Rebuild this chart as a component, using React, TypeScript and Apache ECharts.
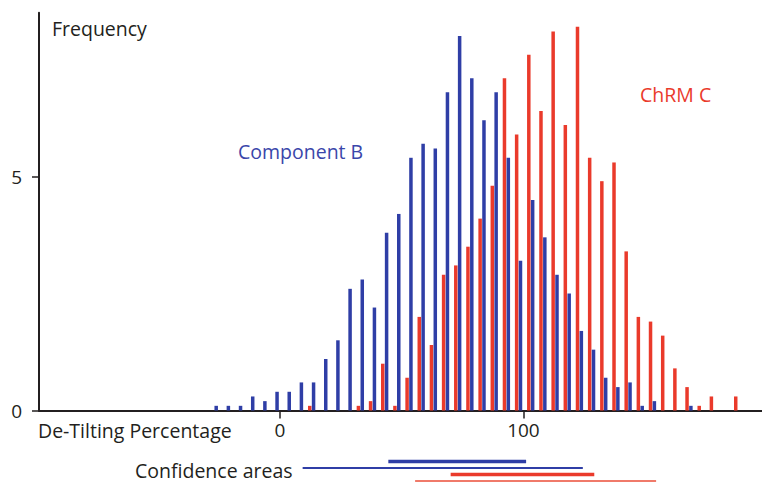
import React, { useEffect, useRef } from "react";
import * as echarts from "echarts";

// Histogram bins (labelled by bin value, %), and the x position of each bar group
const BIN_LABELS = [-25, -20, -15, -10, -5, 0, 5, 10, 15, 20, 25, 30, 35, 40, 45, 50, 55, 60, 65, 70, 75, 80, 85, 90, 95, 100, 105, 110, 115, 120, 125, 130, 135, 140, 145, 150, 155, 160, 165, 170, 175, 180, 185, 190];
const BIN_OFFSET = -2;

const COMPONENT_B = [0.1, 0.1, 0.1, 0.3, 0.2, 0.4, 0.4, 0.6, 0.6, 1.1, 1.5, 2.6, 2.8, 2.2, 3.8, 4.2, 5.4, 5.7, 5.6, 6.8, 8.0, 7.1, 6.2, 6.8, 5.4, 3.2, 4.5, 3.7, 2.9, 2.5, 1.7, 1.3, 0.7, 0.5, 0.6, 0.1, 0.2, 0, 0, 0.1, 0, 0, 0, 0];
const CHRM_C = [0, 0, 0, 0, 0, 0, 0, 0, 0.1, 0, 0, 0, 0.1, 0.2, 1.0, 0.1, 0.7, 2.0, 1.4, 2.9, 3.1, 3.5, 4.1, 4.8, 7.1, 5.9, 7.6, 6.4, 8.1, 6.1, 8.2, 5.4, 4.9, 5.3, 3.4, 2.0, 1.9, 1.6, 0.9, 0.5, 0.1, 0.3, 0, 0.3];

const X_TICKS = [0, 100];
const Y_TICKS = [0, 5];

// Confidence areas (rows from top to bottom)
const CONF_LOW = [44.5, 9.3, 70.1, 55.5];
const CONF_HIGH = [101.1, 124.4, 129.1, 154.5];

const BLUE = "#2f3ea6";
const RED = "#ea3a2b";
const INK = "#231f20";
const FONT = "'Open Sans', 'Noto Sans', sans-serif";
const TITLE_FONT = `19.5px ${FONT}`;

export default function App() {
  const ref = useRef<HTMLDivElement>(null);
  useEffect(() => {
    if (!ref.current) return;
    const chart = echarts.init(ref.current, null, { renderer: "svg" });
    const toPairs = (vals: number[]) =>
      vals
        .map((v, i) => [BIN_LABELS[i] + BIN_OFFSET, v])
        .filter((p) => p[1] > 0);

    const confStyles = [
      { color: BLUE, width: 3.5 },
      { color: BLUE, width: 2 },
      { color: RED, width: 3.5 },
      { color: "#f07a6a", width: 2 },
    ];

    const label = (text: string, x: number, y: number, fill: string) => ({
      type: "text",
      x,
      y,
      style: { text, fill, font: TITLE_FONT, verticalAlign: "middle", lineHeight: 19 },
    });

    chart.setOption({
      animation: false,
      backgroundColor: "#ffffff",
      grid: [
        { left: 39, right: 0, top: 12.7, bottom: 71.5, containLabel: false },
        { left: 39, right: 0, top: 455, height: 26, containLabel: false },
      ],
      xAxis: [
        {
          type: "value",
          gridIndex: 0,
          min: -99,
          max: 198,
          splitLine: { show: false },
          axisLine: { show: true, onZero: false, lineStyle: { color: INK, width: 2 } },
          axisTick: { show: true, length: 8, customValues: X_TICKS, lineStyle: { color: INK, width: 1.5 } },
          axisLabel: {
            customValues: X_TICKS,
            margin: 10,
            color: INK,
            fontSize: 19,
            fontFamily: FONT,
          },
        },
        { type: "value", gridIndex: 1, min: -99, max: 198, show: false },
      ],
      yAxis: [
        {
          type: "value",
          gridIndex: 0,
          min: 0,
          max: 8.5,
          splitLine: { show: false },
          axisLine: { show: true, onZero: false, lineStyle: { color: INK, width: 2 } },
          axisTick: { show: true, length: 7, customValues: Y_TICKS, lineStyle: { color: INK, width: 1.5 } },
          axisLabel: {
            customValues: Y_TICKS,
            margin: 17,
            color: INK,
            fontSize: 19,
            fontFamily: FONT,
          },
        },
        { type: "value", gridIndex: 1, min: 0, max: 4, inverse: true, show: false },
      ],
      series: [
        {
          name: "ChRM C",
          type: "bar",
          xAxisIndex: 0,
          yAxisIndex: 0,
          barWidth: 3.5,
          barGap: "10%",
          itemStyle: { color: RED },
          data: toPairs(CHRM_C),
        },
        {
          name: "Component B",
          type: "bar",
          xAxisIndex: 0,
          yAxisIndex: 0,
          barWidth: 3.5,
          barGap: "10%",
          itemStyle: { color: BLUE },
          data: toPairs(COMPONENT_B),
        },
        ...CONF_LOW.map((lo, i) => ({
          type: "line",
          xAxisIndex: 1,
          yAxisIndex: 1,
          symbol: "none",
          silent: true,
          lineStyle: { color: confStyles[i].color, width: confStyles[i].width },
          data: [
            [lo, i + 1],
            [CONF_HIGH[i], i + 1],
          ],
        })),
      ],
      graphic: [
        label("Frequency", 52, 28.6, INK),
        label("Component B", 238, 151, "#3a46aa"),
        label("ChRM C", 640, 94, RED),
        label("De-Tilting Percentage", 38, 430.6, INK),
        label("Confidence areas", 135, 470, INK),
      ],
    });
    return () => chart.dispose();
  }, []);
  return <div ref={ref} style={{ width: 762, height: 482, position: "absolute", left: 0, top: 0 }} />;
}
